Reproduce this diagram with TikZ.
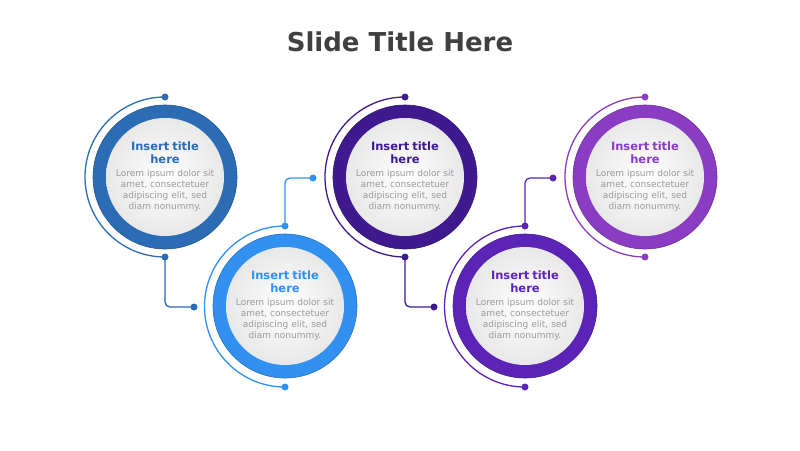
\documentclass[tikz,border=0pt]{standalone}
\usepackage{fontspec}
\setmainfont{DejaVu Sans}
\definecolor{ca}{HTML}{2B6CB5}
\definecolor{cb}{HTML}{3190F0}
\definecolor{cc}{HTML}{3E1A8E}
\definecolor{cd}{HTML}{5B24B6}
\definecolor{ce}{HTML}{8A3DC2}
\definecolor{tgray}{HTML}{404040}
\definecolor{bgray}{HTML}{9A9A9A}
\tikzset{
 ring/.style={circle,minimum size=144pt,inner sep=0pt},
 face/.style={circle,minimum size=118pt,inner sep=0pt,inner color=white,outer color=black!9},
 txt/.style={align=center,text width=100pt,font=\fontsize{9}{11}\selectfont\color{bgray}},
 link/.style={line width=1.3pt,rounded corners=5pt},
 dot/.style={circle,minimum size=7pt,inner sep=0pt}
}
\newcommand{\stepitem}[3]{%
 \node[ring,fill=#2,draw=#2!80!black,line width=0.6pt] (r#1) at (#3) {};
 \node[face] (f#1) at (#3) {};
 \node[txt] (t#1) at (#3) {{\fontsize{11.5}{13}\selectfont\bfseries\color{#2}Insert title\\here\par}\vspace{2pt}Lorem ipsum dolor sit amet, consectetuer adipiscing elit, sed diam nonummy.};
}
\begin{document}
\begin{tikzpicture}[x=1pt,y=1pt]
\useasboundingbox (0,0) rectangle (800,-450);
\node[font=\fontsize{26}{30}\selectfont\bfseries,text=tgray] (title) at (400,-42) {Slide Title Here};
\stepitem{1}{ca}{165,-177}
\stepitem{2}{cb}{285,-306}
\stepitem{3}{cc}{405,-177}
\stepitem{4}{cd}{525,-306}
\stepitem{5}{ce}{645,-177}
% arcs for top row
\foreach \i/\c/\x in {1/ca/165,3/cc/405,5/ce/645}{
 \coordinate (a\i) at (\x,-97);
 \coordinate (b\i) at (\x,-257);
 \draw[\c,line width=1.3pt] (a\i) arc[start angle=90,end angle=270,radius=80];
 \node[dot,fill=\c] (da\i) at (a\i) {};
 \node[dot,fill=\c] (db\i) at (b\i) {};
}
\foreach \i/\c/\x in {2/cb/285,4/cd/525}{
 \coordinate (a\i) at (\x,-387);
 \coordinate (b\i) at (\x,-226);
 \draw[\c,line width=1.3pt] (a\i) arc[start angle=270,end angle=90,radius=80.5];
 \node[dot,fill=\c] (da\i) at (a\i) {};
 \node[dot,fill=\c] (db\i) at (b\i) {};
}
% connectors
\node[dot,fill=ca] (e1) at (194,-307) {};
\node[dot,fill=cb] (e2) at (313,-178) {};
\node[dot,fill=cc] (e3) at (434,-307) {};
\node[dot,fill=cd] (e4) at (553,-178) {};
\draw[link,ca] (db1.center) |- (e1.center);
\draw[link,cb] (db2.center) |- (e2.center);
\draw[link,cc] (db3.center) |- (e3.center);
\draw[link,cd] (db4.center) |- (e4.center);
\end{tikzpicture}
\end{document}
